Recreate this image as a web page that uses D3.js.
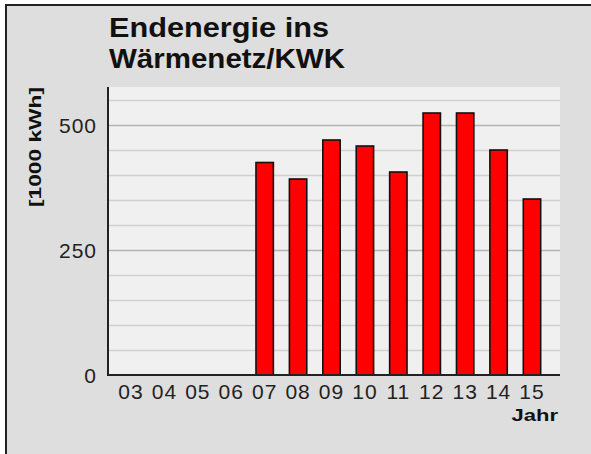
<!DOCTYPE html>
<html><head><meta charset="utf-8">
<script src="https://cdn.jsdelivr.net/npm/d3@7"></script>
<style>html,body{margin:0;padding:0;background:#fff;}svg{display:block;}</style>
</head><body>
<svg id="chart" width="591" height="454"></svg>
<script>
const years = ["03","04","05","06","07","08","09","10","11","12","13","14","15"];
const values = [null,null,null,null,425,392,470,458,406,524,524,450,352];
const yTicks = [0,250,500];
const gridValues = [50,100,150,200,250,300,350,400,450,500,550];
const titleLines = ["Endenergie ins","Wärmenetz/KWK"];
const yLabel = "[1000 kWh]";
const xLabel = "Jahr";

const svg = d3.select("#chart");
svg.append("rect").attr("x",0).attr("y",0).attr("width",591).attr("height",454).attr("fill","#ffffff");
svg.append("rect").attr("x",6).attr("y",5).attr("width",600).attr("height",460)
  .attr("fill","#dedede").attr("stroke","#222").attr("stroke-width",2);

const plot = {l:108, r:560, t:87, b:375};
const x = d3.scaleBand().domain(years).range([114.3,548.7]).paddingInner(0.48).paddingOuter(0.24);
const y = d3.scaleLinear().domain([0,576]).range([plot.b, plot.t]);

svg.append("rect").attr("x",plot.l).attr("y",plot.t).attr("width",plot.r-plot.l).attr("height",plot.b-plot.t).attr("fill","#f0f0f0");

svg.append("g").selectAll("line").data(gridValues).join("line")
  .attr("x1",plot.l).attr("x2",plot.r)
  .attr("y1",d=>Math.round(y(d))+0.5).attr("y2",d=>Math.round(y(d))+0.5)
  .attr("stroke",d=>d%250===0?"#b4b4b4":"#d0d0d0").attr("stroke-width",1.5);

svg.append("g").selectAll("rect").data(years.map((k,i)=>({k,v:values[i]})).filter(d=>d.v!=null)).join("rect")
  .attr("x",d=>x(d.k)).attr("width",x.bandwidth())
  .attr("y",d=>y(d.v)).attr("height",d=>y(0)-y(d.v))
  .attr("fill","#ff0000").attr("stroke","#111").attr("stroke-width",1.6);

const FONT = "Liberation Sans, Arial, sans-serif";
const yAxis = d3.axisLeft(y).tickValues(yTicks).tickSize(0).tickPadding(11);
const gy = svg.append("g").attr("transform",`translate(${plot.l},0)`).call(yAxis);
gy.select(".domain").remove();
gy.selectAll("text").attr("font-family",FONT).attr("font-size",21).attr("letter-spacing",1).attr("fill","#222").attr("dy","0.35em");

const xAxis = d3.axisBottom(x).tickSize(0).tickPadding(9);
const gx = svg.append("g").attr("transform",`translate(0,${plot.b})`).call(xAxis);
gx.select(".domain").remove();
gx.selectAll("text").attr("font-family",FONT).attr("font-size",21).attr("letter-spacing",1).attr("fill","#222").attr("dy","0.71em");

svg.append("line").attr("x1",plot.l).attr("x2",plot.l).attr("y1",plot.t).attr("y2",plot.b+1).attr("stroke","#222").attr("stroke-width",2);
svg.append("line").attr("x1",plot.l).attr("x2",plot.r).attr("y1",plot.b).attr("y2",plot.b).attr("stroke","#222").attr("stroke-width",2);

const tl = [220,236];
titleLines.forEach((t,i)=>{
  svg.append("text").attr("x",109).attr("y",36.5+i*31.7).text(t)
    .attr("font-family",FONT).attr("font-weight","bold").attr("font-size",28).attr("fill","#111")
    .attr("textLength",tl[i]).attr("lengthAdjust","spacingAndGlyphs");
});

svg.append("text").attr("transform","translate(41,207) rotate(-90)").text(yLabel)
  .attr("font-family",FONT).attr("font-weight","bold").attr("font-size",16).attr("fill","#111")
  .attr("textLength",120).attr("lengthAdjust","spacingAndGlyphs");
svg.append("text").attr("x",511.5).attr("y",421).text(xLabel)
  .attr("font-family",FONT).attr("font-weight","bold").attr("font-size",16).attr("fill","#111")
  .attr("textLength",46.5).attr("lengthAdjust","spacingAndGlyphs");
</script>
</body></html>
